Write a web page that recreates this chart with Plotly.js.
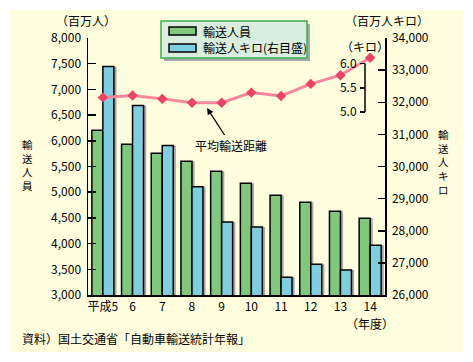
<!DOCTYPE html>
<html>
<head>
<meta charset="utf-8">
<script src="https://cdn.plot.ly/plotly-3.0.1.min.js"></script>
<style>html,body{margin:0;padding:0;background:#fff;}#chart{width:473px;height:362px;}</style>
</head>
<body>
<div id="chart"></div>
<script>
// ---- data ----
const years = ['平成5','6','7','8','9','10','11','12','13','14'];
const passengers = [6205, 5935, 5757, 5600, 5407, 5175, 4940, 4805, 4630, 4492];      // 百万人
const passengerKm = [33115, 31900, 30650, 29370, 28270, 28115, 26550, 26960, 26780, 27550]; // 百万人キロ
const avgDistance = [5.30, 5.34, 5.27, 5.19, 5.19, 5.40, 5.33, 5.58, 5.76, 6.12];   // キロ
const leftTicks = [3000,3500,4000,4500,5000,5500,6000,6500,7000,7500,8000];
const rightTicks = [26000,27000,28000,29000,30000,31000,32000,33000,34000];
const distTicks = [5, 5.5, 6];
const distTickText = ['5.0','5.5','6.0'];

// ---- geometry helpers (pixel -> paper) ----
const W = 473, H = 362, L = 88, R = 385, T = 38, B = 295;
const px = x => (x - L) / (R - L);
const py = y => (B - y) / (B - T);
const FONT = '"Noto Sans CJK JP", "Noto Sans", sans-serif';

const green = '#80C97C', blue = '#7FCFE2', shadow = '#A8A8A8';
const bw = 0.37, sh = 0.09;

const traces = [
  {type:'bar', x: years, y: passengers, yaxis:'y', offset: -bw + sh, width: bw,
   marker:{color: shadow, line:{width:0}}, hoverinfo:'skip'},
  {type:'bar', x: years, y: passengers, yaxis:'y', offset: -bw, width: bw,
   marker:{color: green, line:{color:'#000', width:1.5}}, name:'輸送人員'},
  {type:'bar', x: years, y: passengerKm, yaxis:'y2', offset: sh, width: bw,
   marker:{color: shadow, line:{width:0}}, hoverinfo:'skip'},
  {type:'bar', x: years, y: passengerKm, yaxis:'y2', offset: 0, width: bw,
   marker:{color: blue, line:{color:'#000', width:1.5}}, name:'輸送人キロ(右目盛)'},
  {type:'scatter', mode:'lines+markers', x: years, y: avgDistance, yaxis:'y3',
   line:{color:'#F7879A', width:3}, marker:{symbol:'diamond', size:8, color:'#EE4262'},
   name:'平均輸送距離'}
];

const annotations = [];
function txt(t, x, y, opts) {
  annotations.push(Object.assign({text:t, x:px(x), y:py(y), xref:'paper', yref:'paper',
    showarrow:false, font:{family:FONT, size:12, color:'#000'}, xanchor:'center', yanchor:'middle'}, opts||{}));
}
txt('（百万人）', 86, 20);
txt('（百万人キロ）', 387, 20);
txt('（キロ）', 365, 46);
txt('（年度）', 370, 323);
txt('資料）国土交通省「自動車輸送統計年報」', 20, 338, {xanchor:'left'});
txt('輸送人員', 201, 31, {xanchor:'left'});
txt('輸送人キロ(右目盛)', 201, 48, {xanchor:'left'});
txt('輸送人員'.split('').join('<br>'), 27, 165, {font:{family:FONT, size:10.5, color:'#000'}});
txt('輸送人キロ'.split('').join('<br>'), 443, 162, {font:{family:FONT, size:10.5, color:'#000'}});
annotations.push({text:'平均輸送距離', xref:'paper', yref:'paper', x:px(207), y:py(108),
  ax:24, ay:37, showarrow:true, arrowhead:2, arrowsize:1, arrowwidth:1.3, arrowcolor:'#000',
  font:{family:FONT, size:12, color:'#000'}});

const shapes = [
  {type:'rect', xref:'paper', yref:'paper', x0:px(10), x1:px(463), y0:py(352), y1:py(10),
   fillcolor:'#FFFFDD', line:{width:0}, layer:'below'},
  // legend box shadow + box
  {type:'rect', xref:'paper', yref:'paper', x0:px(164), x1:px(310), y0:py(61), y1:py(24),
   fillcolor:'#A8A8A8', line:{width:0}},
  {type:'rect', xref:'paper', yref:'paper', x0:px(161), x1:px(307), y0:py(58), y1:py(21),
   fillcolor:'#D9EEDD', line:{color:'#3DAE4F', width:1.5}},
  {type:'rect', xref:'paper', yref:'paper', x0:px(169), x1:px(196), y0:py(35), y1:py(27),
   fillcolor:green, line:{color:'#000', width:1.5}},
  {type:'rect', xref:'paper', yref:'paper', x0:px(169), x1:px(196), y0:py(52), y1:py(44),
   fillcolor:blue, line:{color:'#000', width:1.5}},
  // distance mini-axis line
  {type:'line', xref:'paper', yref:'y3', x0:px(365), x1:px(365), y0:5, y1:6,
   line:{color:'#000', width:1.5}}
];

const tickFont = {family:FONT, size:12, color:'#000'};
const layout = {
  width: W, height: H,
  margin:{l:L, r:W-R, t:T, b:H-B, pad:0},
  paper_bgcolor:'#ffffff', plot_bgcolor:'rgba(0,0,0,0)',
  showlegend:false, barmode:'overlay',
  font:{family:FONT, size:12, color:'#000'},
  xaxis:{type:'category', range:[-0.5, 9.5], showline:true, linecolor:'#000', linewidth:1.5,
    ticks:'', showgrid:false, zeroline:false, tickfont:tickFont, fixedrange:true},
  yaxis:{range:[3000, 8000], tickvals:leftTicks, tickformat:',d', showline:true, linecolor:'#000',
    linewidth:1.5, ticks:'inside', ticklen:8, tickcolor:'#000', tickwidth:1.5, showgrid:false,
    zeroline:false, tickfont:tickFont, ticklabelstandoff:3},
  yaxis2:{range:[26000, 34000], tickvals:rightTicks, tickformat:',d', overlaying:'y', side:'right',
    showline:true, linecolor:'#000', linewidth:1.5, ticks:'inside', ticklen:7, tickcolor:'#000',
    tickwidth:1.5, showgrid:false, zeroline:false, tickfont:tickFont, ticklabelstandoff:3},
  yaxis3:{range:[1.213, 6.529], overlaying:'y', anchor:'free', position:px(365), side:'left',
    tickvals:distTicks, ticktext:distTickText, showline:false, ticks:'outside', ticklen:5,
    tickcolor:'#000', tickwidth:1.5, showgrid:false, zeroline:false, tickfont:tickFont,
    ticklabelstandoff:1},
  shapes: shapes,
  annotations: annotations
};

Plotly.newPlot('chart', traces, layout, {staticPlot:true, displayModeBar:false});
</script>
</body>
</html>
